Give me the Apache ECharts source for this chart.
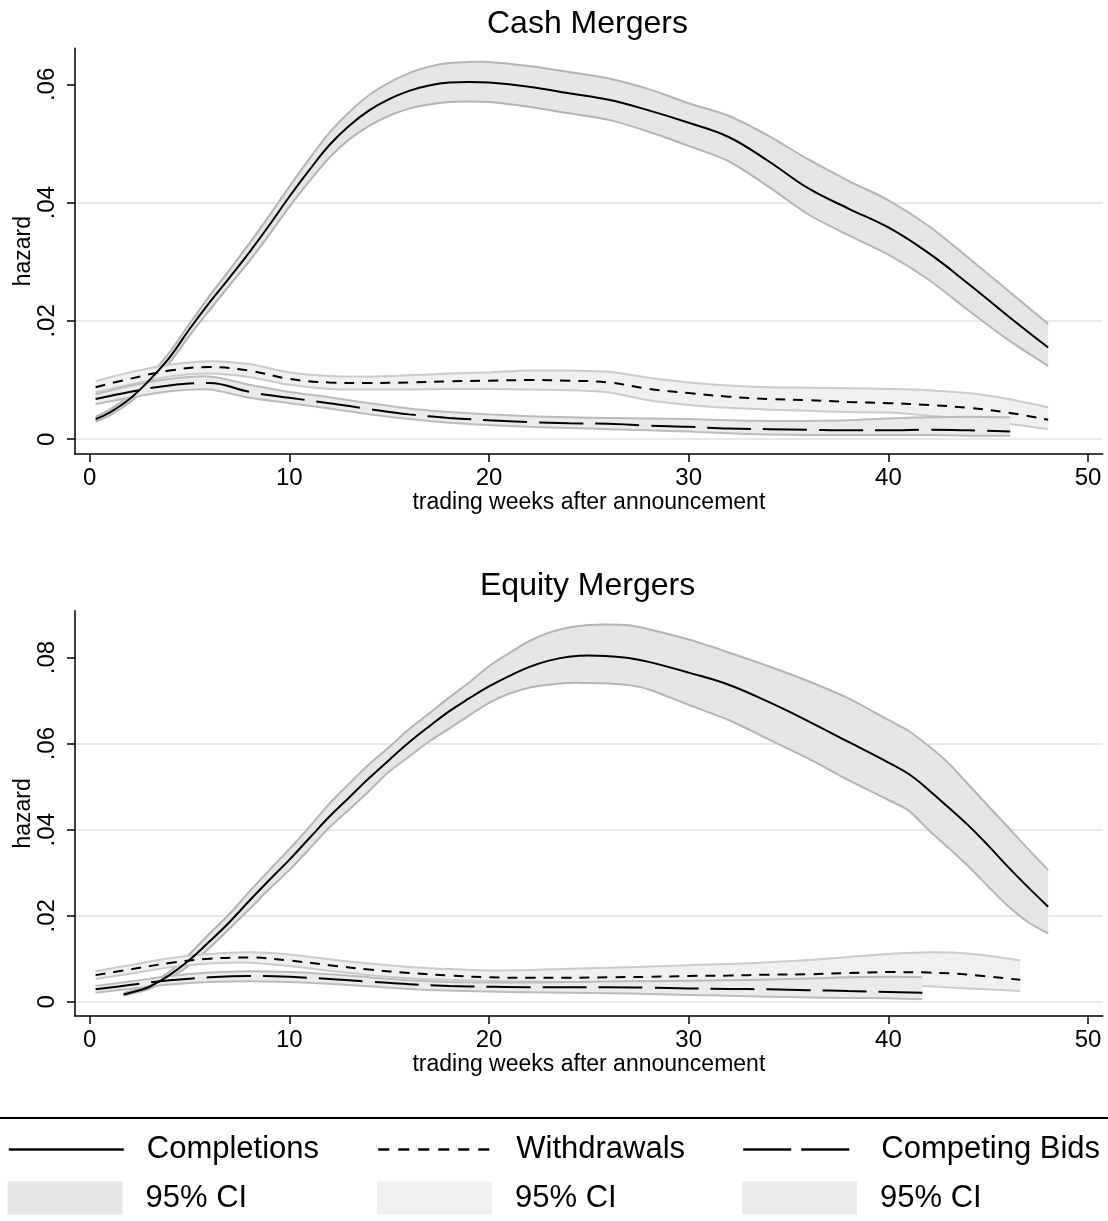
<!DOCTYPE html>
<html><head><meta charset="utf-8">
<script src="https://cdn.jsdelivr.net/npm/echarts@6/dist/echarts.min.js"></script>
<style>html,body{margin:0;padding:0;background:#fff}#c{width:1108px;height:1221px}</style>
</head><body><div id="c"></div>
<script>
// ---- tick values ----
const xTickValues = [0, 10, 20, 30, 40, 50];
const cashYTicks = [0, 0.02, 0.04, 0.06];
const equityYTicks = [0, 0.02, 0.04, 0.06, 0.08];

// ---- Cash Mergers ----
const cashCompWeeks = [0.3,1,2,3,4,5,6,7,8,9,10,11,12,13,14,15,16,17,18,19,20,22,24,26,28,30,32,34,36,38,40,42,44,46,48];
const cashCompMean  = [0.0034,0.0045,0.0068,0.0100,0.0138,0.0186,0.0231,0.0273,0.0316,0.0362,0.0410,0.0455,0.0497,0.0530,0.0556,0.0575,0.0589,0.0598,0.0603,0.0604,0.0603,0.0596,0.0585,0.0574,0.0556,0.0535,0.0511,0.0470,0.0424,0.0390,0.0358,0.0315,0.0263,0.0208,0.0155];
const cashCompUpper = [0.0038,0.0050,0.0074,0.0107,0.0147,0.0195,0.0242,0.0286,0.0331,0.0378,0.0427,0.0474,0.0518,0.0553,0.0582,0.0603,0.0619,0.0630,0.0636,0.0638,0.0638,0.0631,0.0621,0.0610,0.0592,0.0568,0.0547,0.0513,0.0473,0.0437,0.0404,0.0361,0.0307,0.0251,0.0195];
const cashCompLower = [0.0030,0.0040,0.0062,0.0093,0.0129,0.0175,0.0218,0.0260,0.0301,0.0346,0.0393,0.0436,0.0476,0.0507,0.0530,0.0547,0.0559,0.0566,0.0570,0.0571,0.0570,0.0562,0.0551,0.0540,0.0520,0.0496,0.0470,0.0427,0.0380,0.0345,0.0312,0.0270,0.0218,0.0168,0.0124];

const cashWdWeeks = [0.3,2,4,6,8,10,12,14,16,18,20,22,24,26,28,30,32,34,36,38,40,42,44,46,48];
const cashWdMean  = [0.0088,0.0102,0.0116,0.0122,0.0116,0.0102,0.0096,0.0095,0.0096,0.0098,0.0099,0.0100,0.0099,0.0096,0.0085,0.0078,0.0072,0.0068,0.0066,0.0063,0.0061,0.0058,0.0053,0.0045,0.0033];
const cashWdUpper = [0.0098,0.0113,0.0126,0.0132,0.0127,0.0113,0.0107,0.0106,0.0108,0.0111,0.0113,0.0116,0.0116,0.0114,0.0104,0.0096,0.0091,0.0088,0.0087,0.0086,0.0085,0.0083,0.0078,0.0068,0.0054];
const cashWdLower = [0.0079,0.0092,0.0106,0.0111,0.0105,0.0092,0.0085,0.0084,0.0084,0.0085,0.0085,0.0084,0.0083,0.0079,0.0066,0.0058,0.0053,0.0050,0.0048,0.0046,0.0045,0.0040,0.0034,0.0026,0.0017];

const cashCbWeeks = [0.3,2,4,6,8,10,12,14,16,18,20,22,24,26,28,30,32,34,36,38,40,42,44,46.1];
const cashCbMean  = [0.0068,0.0080,0.0091,0.0095,0.0080,0.0070,0.0061,0.0051,0.0042,0.0036,0.0032,0.0029,0.0027,0.0026,0.0023,0.0021,0.0018,0.0017,0.0016,0.0015,0.0015,0.0016,0.0015,0.0013];
const cashCbUpper = [0.0076,0.0090,0.0102,0.0106,0.0092,0.0080,0.0071,0.0061,0.0052,0.0046,0.0042,0.0039,0.0037,0.0036,0.0035,0.0034,0.0032,0.0031,0.0031,0.0032,0.0035,0.0037,0.0038,0.0037];
const cashCbLower = [0.0059,0.0070,0.0081,0.0084,0.0070,0.0061,0.0052,0.0042,0.0034,0.0028,0.0024,0.0021,0.0019,0.0017,0.0015,0.0013,0.0010,0.0008,0.0007,0.0007,0.0007,0.0007,0.0006,0.0006];

// ---- Equity Mergers ----
const eqCompWeeks = [1.7,2.5,3,4,5,6,7,8,9,10,11,12,13,14,15,16,17,18,19,20,21,22,23,24,25,26,27,28,30,32,34,36,38,40,41,42,43,44,45,46,47,48];
const eqCompMean  = [0.0017,0.0027,0.0035,0.0062,0.0097,0.0140,0.0185,0.0235,0.0283,0.0330,0.0380,0.0430,0.0475,0.0520,0.0562,0.0603,0.0640,0.0675,0.0705,0.0733,0.0757,0.0778,0.0793,0.0802,0.0805,0.0803,0.0799,0.0790,0.0765,0.0737,0.0697,0.0652,0.0604,0.0556,0.0530,0.0493,0.0452,0.0410,0.0363,0.0313,0.0266,0.0221];
const eqCompUpper = [0.0020,0.0031,0.0040,0.0070,0.0111,0.0158,0.0204,0.0256,0.0306,0.0355,0.0406,0.0460,0.0507,0.0552,0.0592,0.0634,0.0670,0.0707,0.0742,0.0780,0.0810,0.0838,0.0858,0.0870,0.0876,0.0877,0.0875,0.0866,0.0842,0.0812,0.0780,0.0745,0.0705,0.0655,0.0630,0.0595,0.0555,0.0505,0.0455,0.0405,0.0355,0.0306];
const eqCompLower = [0.0014,0.0023,0.0030,0.0055,0.0085,0.0125,0.0170,0.0215,0.0262,0.0306,0.0355,0.0405,0.0447,0.0490,0.0535,0.0570,0.0605,0.0635,0.0665,0.0695,0.0716,0.0730,0.0737,0.0741,0.0741,0.0740,0.0736,0.0726,0.0690,0.0655,0.0610,0.0565,0.0515,0.0469,0.0445,0.0400,0.0358,0.0315,0.0268,0.0222,0.0185,0.0159];

const eqWdWeeks = [0.3,2,4,6,8,10,12,14,16,18,20,22,24,26,28,30,32,34,36,38,40,42,44,46.6];
const eqWdMean  = [0.0062,0.0075,0.0090,0.0100,0.0103,0.0096,0.0085,0.0075,0.0067,0.0061,0.0057,0.0056,0.0056,0.0057,0.0058,0.0060,0.0061,0.0063,0.0064,0.0067,0.0069,0.0068,0.0063,0.0051];
const eqWdUpper = [0.0071,0.0085,0.0101,0.0111,0.0115,0.0110,0.0099,0.0089,0.0081,0.0076,0.0073,0.0074,0.0077,0.0079,0.0082,0.0085,0.0088,0.0092,0.0097,0.0104,0.0111,0.0115,0.0112,0.0096];
const eqWdLower = [0.0053,0.0065,0.0080,0.0089,0.0091,0.0083,0.0072,0.0062,0.0055,0.0051,0.0049,0.0047,0.0046,0.0046,0.0046,0.0046,0.0045,0.0045,0.0044,0.0042,0.0040,0.0036,0.0031,0.0025];

const eqCbWeeks = [0.3,2,4,6,8,10,12,14,16,18,20,22,24,26,28,30,32,34,36,38,40,41.7];
const eqCbMean  = [0.0029,0.0039,0.0050,0.0057,0.0060,0.0058,0.0053,0.0047,0.0041,0.0037,0.0035,0.0034,0.0034,0.0034,0.0033,0.0031,0.0030,0.0029,0.0027,0.0025,0.0023,0.0021];
const eqCbUpper = [0.0037,0.0047,0.0060,0.0068,0.0071,0.0069,0.0064,0.0057,0.0050,0.0046,0.0045,0.0045,0.0046,0.0047,0.0048,0.0049,0.0050,0.0052,0.0054,0.0057,0.0058,0.0057];
const eqCbLower = [0.0021,0.0030,0.0040,0.0046,0.0048,0.0046,0.0042,0.0036,0.0030,0.0026,0.0024,0.0022,0.0021,0.0020,0.0018,0.0016,0.0014,0.0012,0.0010,0.0009,0.0008,0.0006];

// ---- styling ----
const FONT = "'Liberation Sans', Arial, Helvetica, sans-serif";
const SM = 0.3;
const compFill = '#e6e6e6', wdFill = '#f0f0f0', cbFill = '#ebebeb';
const compEdge = '#b4b4b4', wdEdge = '#cbcbcb', cbEdge = '#bcbcbc';
const wdDash = [10, 8], cbDash = [44, 12];

// confidence band: filled area between lower and upper, drawn through the axes' coordinate system
function band(g, name, weeks, lower, upper, fill, edge) {
  return {
    type: 'custom', name: name, xAxisIndex: g, yAxisIndex: g,
    data: weeks.map((w, i) => [w, lower[i], upper[i]]),
    encode: { x: 0, y: [1, 2] }, silent: true, z: 2, clip: true,
    itemStyle: { color: fill },
    renderItem: function (params, api) {
      if (params.dataIndexInside !== 0) return null;
      const n = params.dataInsideLength;
      const up = [], lo = [];
      for (let i = 0; i < n; i++) {
        up.push(api.coord([api.value(0, i), api.value(2, i)]));
        lo.push(api.coord([api.value(0, i), api.value(1, i)]));
      }
      // doubled corner points keep the band's two ends straight while the long edges are smoothed
      const loRev = lo.slice().reverse();
      const poly = [up[0]].concat(up, [up[n - 1]], [loRev[0]], loRev, [loRev[n - 1]]);
      return { type: 'group', children: [
        { type: 'polygon', shape: { points: poly, smooth: SM }, style: { fill: fill, stroke: null } },
        { type: 'polyline', shape: { points: up, smooth: SM }, style: { fill: null, stroke: edge, lineWidth: 2 } },
        { type: 'polyline', shape: { points: lo, smooth: SM }, style: { fill: null, stroke: edge, lineWidth: 2 } }
      ] };
    }
  };
}
function meanLine(g, name, weeks, vals, dash) {
  return { type: 'line', name: name, xAxisIndex: g, yAxisIndex: g, data: weeks.map((w, i) => [w, vals[i]]),
    symbol: 'none', smooth: 0.4, lineStyle: { color: '#000', width: 2, type: dash }, itemStyle: { color: '#000' },
    silent: true, z: 3 };
}
function yFmt(v) { return v === 0 ? '0' : v.toFixed(2).replace(/^0/, ''); }

function xAx(g) {
  return { gridIndex: g, type: 'value', min: -0.73, max: 50.73,
    name: 'trading weeks after announcement', nameLocation: 'middle', nameGap: 37, nameMoveOverlap: false,
    nameTextStyle: { fontSize: 23, color: '#000', fontFamily: FONT },
    axisLine: { show: true, onZero: false, lineStyle: { color: '#000', width: 1.5 } },
    axisTick: { show: true, inside: false, length: 8, customValues: xTickValues, lineStyle: { color: '#000', width: 1.5 } },
    axisLabel: { customValues: xTickValues, fontSize: 24, color: '#000', margin: 12, fontFamily: FONT },
    splitLine: { show: false } };
}
function yAx(g, min, max, ticks) {
  return { gridIndex: g, type: 'value', min: min, max: max,
    name: 'hazard', nameLocation: 'middle', nameGap: 40, nameRotate: 90, nameMoveOverlap: false,
    nameTextStyle: { fontSize: 23, color: '#000', fontFamily: FONT },
    axisLine: { show: true, onZero: false, lineStyle: { color: '#000', width: 1.5 } },
    axisTick: { show: true, inside: false, length: 8, customValues: ticks, lineStyle: { color: '#000', width: 1.5 } },
    axisLabel: { customValues: ticks, rotate: 90, fontSize: 24, color: '#000', margin: 16, formatter: yFmt, fontFamily: FONT },
    splitLine: { show: true, showMinLine: true, showMaxLine: false, lineStyle: { color: '#e9e9e9', width: 2 } } };
}

const series = [
  band(0, 'Completions 95% CI', cashCompWeeks, cashCompLower, cashCompUpper, compFill, compEdge),
  band(0, 'Withdrawals 95% CI', cashWdWeeks, cashWdLower, cashWdUpper, wdFill, wdEdge),
  band(0, 'Competing Bids 95% CI', cashCbWeeks, cashCbLower, cashCbUpper, cbFill, cbEdge),
  band(1, 'Completions 95% CI', eqCompWeeks, eqCompLower, eqCompUpper, compFill, compEdge),
  band(1, 'Withdrawals 95% CI', eqWdWeeks, eqWdLower, eqWdUpper, wdFill, wdEdge),
  band(1, 'Competing Bids 95% CI', eqCbWeeks, eqCbLower, eqCbUpper, cbFill, cbEdge),
  meanLine(0, 'Completions', cashCompWeeks, cashCompMean, 'solid'),
  meanLine(0, 'Withdrawals', cashWdWeeks, cashWdMean, wdDash),
  meanLine(0, 'Competing Bids', cashCbWeeks, cashCbMean, cbDash),
  meanLine(1, 'Completions', eqCompWeeks, eqCompMean, 'solid'),
  meanLine(1, 'Withdrawals', eqWdWeeks, eqWdMean, wdDash),
  meanLine(1, 'Competing Bids', eqCbWeeks, eqCbMean, cbDash)
];

function lineLegend(left, name, dash) {
  return { left: left, top: 1134, padding: 0, itemWidth: 115, itemHeight: 33, selectedMode: false,
    data: [{ name: name, itemStyle: { color: 'rgba(0,0,0,0)', borderWidth: 0, opacity: 0 } }],
    lineStyle: { color: '#000', width: 2.5, type: dash },
    textStyle: { fontSize: 31, color: '#000', fontFamily: FONT, padding: [0, 0, 0, 18] } };
}
function ciLegend(left, name, fill) {
  return { left: left, top: 1181.5, padding: 0, itemWidth: 115, itemHeight: 33, selectedMode: false,
    data: [{ name: name, icon: 'rect', itemStyle: { color: fill, borderWidth: 0, opacity: 1 } }],
    formatter: function () { return '95% CI'; },
    textStyle: { fontSize: 31, color: '#000', fontFamily: FONT, padding: [0, 0, 0, 18] } };
}

const option = {
  animation: false,
  backgroundColor: '#fff',
  title: [
    { text: 'Cash Mergers', left: 487, top: 8, padding: 0,
      textStyle: { fontSize: 32, fontWeight: 'normal', color: '#000', fontFamily: FONT } },
    { text: 'Equity Mergers', left: 480, top: 570, padding: 0,
      textStyle: { fontSize: 32, fontWeight: 'normal', color: '#000', fontFamily: FONT } }
  ],
  grid: [
    { left: 75, right: 5.3, top: 48.3, bottom: 767, containLabel: false },
    { left: 75, right: 5.3, top: 610.7, bottom: 205, containLabel: false }
  ],
  xAxis: [xAx(0), xAx(1)],
  yAxis: [yAx(0, -0.0025, 0.0661, cashYTicks), yAx(1, -0.0033, 0.0909, equityYTicks)],
  legend: [
    lineLegend(7.5, 'Completions', 'solid'),
    lineLegend(377, 'Withdrawals', [11, 9]),
    lineLegend(742, 'Competing Bids', [48, 10]),
    ciLegend(7.5, 'Completions 95% CI', compFill),
    ciLegend(377, 'Withdrawals 95% CI', wdFill),
    ciLegend(742, 'Competing Bids 95% CI', cbFill)
  ],
  graphic: [
    { type: 'line', shape: { x1: 0, y1: 1118, x2: 1108, y2: 1118 }, style: { stroke: '#000', lineWidth: 2 }, silent: true }
  ],
  series: series
};

const chart = echarts.init(document.getElementById('c'), null, { renderer: 'canvas' });
chart.setOption(option);
</script>
</body></html>
